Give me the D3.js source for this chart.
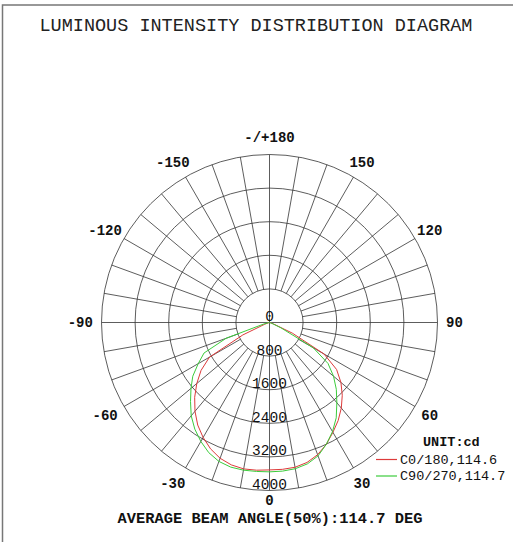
<!DOCTYPE html>
<html>
<head>
<meta charset="utf-8">
<script src="https://cdn.jsdelivr.net/npm/d3@7"></script>
<style>
  html, body { margin: 0; padding: 0; background: #fff; }
  svg { display: block; }
</style>
</head>
<body>
<div id="chart"></div>
<script>
// ---- data ----
const titleText = "LUMINOUS INTENSITY DISTRIBUTION DIAGRAM";
const footerText = "AVERAGE BEAM ANGLE(50%):114.7 DEG";
const unitText = "UNIT:cd";
const ringValues = [0, 800, 1600, 2400, 3200, 4000];
const angleLabelValues = [-150, -120, -90, -60, -30, 0, 30, 60, 90, 120, 150, 180];
const seriesNames = ["C0/180,114.6", "C90/270,114.7"];
const seriesColors = ["#dd3a3a", "#3ccc3c"];
const curveAngles = [-90, -85, -80, -75, -70, -65, -60, -55, -50, -45, -40, -35, -30, -25, -20, -15, -10, -5, 0,
                     5, 10, 15, 20, 25, 30, 35, 40, 45, 50, 55, 60, 65, 70, 75, 80, 85, 90];
const c0Values = [0, 0, 10, 30, 120, 700, 1650, 1990, 2260, 2520, 2760, 2980, 3160, 3320, 3440, 3510, 3540, 3530, 3510,
                  3510, 3500, 3450, 3350, 3200, 3020, 2850, 2660, 2450, 2220, 1950, 1500, 600, 100, 30, 10, 0, 0];
const c90Values = [0, 0, 20, 150, 1100, 1720, 1960, 2230, 2440, 2660, 2900, 3100, 3270, 3420, 3520, 3565, 3570, 3560, 3556,
                   3552, 3535, 3485, 3380, 3200, 3000, 2770, 2495, 2250, 1990, 1700, 1200, 300, 60, 10, 0, 0, 0];

// ---- layout ----
const W = 513, H = 542;
const cx = 269.5, cy = 322.5, R = 168;
const mono = "'Liberation Mono', 'Courier New', monospace";

const svg = d3.select("#chart").append("svg")
  .attr("width", W).attr("height", H);

svg.append("rect").attr("width", W).attr("height", H).attr("fill", "#fff");

// frame (left + top)
svg.append("path")
  .attr("d", `M2.5,${H} V5 H${W}`)
  .attr("fill", "none").attr("stroke", "#777").attr("stroke-width", 1.5);

svg.append("text")
  .attr("x", 256).attr("y", 31)
  .attr("text-anchor", "middle")
  .attr("font-family", mono)
  .attr("font-size", 18.5)
  .attr("fill", "#222")
  .text(titleText);

const rScale = d3.scaleLinear().domain([0, d3.max(ringValues)]).range([0, R]);
const toRad = d => (180 - d) * Math.PI / 180; // 0 deg at bottom, +90 at right
const g = svg.append("g").attr("transform", `translate(${cx},${cy})`);

const gridColor = "#333";
// circles
g.selectAll("circle.ring").data(ringValues.filter(v => v > 0)).join("circle")
  .attr("class", "ring")
  .attr("r", d => rScale(d))
  .attr("fill", "none").attr("stroke", gridColor).attr("stroke-width", 0.8);

// radial lines every 10 deg
const spokes = d3.range(0, 360, 10);
const innerR = rScale(ringValues[1]);
g.selectAll("line.spoke").data(spokes).join("line")
  .attr("class", "spoke")
  .attr("x1", d => (d % 90 === 0 ? 0 : innerR) * Math.sin(toRad(d)))
  .attr("y1", d => -(d % 90 === 0 ? 0 : innerR) * Math.cos(toRad(d)))
  .attr("x2", d => R * Math.sin(toRad(d)))
  .attr("y2", d => -R * Math.cos(toRad(d)))
  .attr("stroke", gridColor).attr("stroke-width", 0.8);

// ring labels
g.selectAll("text.ringlab").data(ringValues).join("text")
  .attr("class", "ringlab")
  .attr("x", 0)
  .attr("y", d => rScale(d) - 1.5)
  .attr("text-anchor", "middle")
  .attr("font-family", mono)
  .attr("font-size", 14.5)
  .attr("fill", "#111")
  .text(d => d);

// angle labels
const labR = d => (d === 0 ? 178 : 185);
g.selectAll("text.anglab").data(angleLabelValues).join("text")
  .attr("class", "anglab")
  .attr("x", d => labR(d) * Math.sin(toRad(d)))
  .attr("y", d => -labR(d) * Math.cos(toRad(d)))
  .attr("dx", d => (d < 0 ? -4.2 : 0))
  .attr("dy", "0.35em")
  .attr("text-anchor", "middle")
  .attr("font-family", mono)
  .attr("font-weight", "bold")
  .attr("font-size", 14)
  .attr("fill", "#111")
  .text(d => (d === 180 ? "-/+180" : d));

// curves
const radial = d3.lineRadial()
  .angle(d => toRad(d[0]))
  .radius(d => rScale(d[1]))
  .curve(d3.curveLinear);

[c0Values, c90Values].forEach((vals, i) => {
  const pts = curveAngles.map((a, k) => [a, vals[k]]);
  g.append("path")
    .attr("d", radial(pts))
    .attr("fill", "none")
    .attr("stroke", seriesColors[i])
    .attr("stroke-width", 1);
});

// legend
svg.append("text")
  .attr("x", 423).attr("y", 445.5)
  .attr("font-family", mono).attr("font-weight", "bold")
  .attr("font-size", 13.5).attr("fill", "#111")
  .text(unitText);

const legY = [459.5, 476];
seriesNames.forEach((name, i) => {
  svg.append("line")
    .attr("x1", 376).attr("x2", 397)
    .attr("y1", legY[i]).attr("y2", legY[i])
    .attr("stroke", seriesColors[i]).attr("stroke-width", 1.2);
  svg.append("text")
    .attr("x", 400).attr("y", legY[i] + 4.2)
    .attr("font-family", mono)
    .attr("font-size", 13.5).attr("fill", "#111")
    .text(name);
});

// footer
svg.append("text")
  .attr("x", 270).attr("y", 523)
  .attr("text-anchor", "middle")
  .attr("font-family", mono).attr("font-weight", "bold")
  .attr("font-size", 15.4).attr("fill", "#111")
  .text(footerText);
</script>
</body>
</html>
